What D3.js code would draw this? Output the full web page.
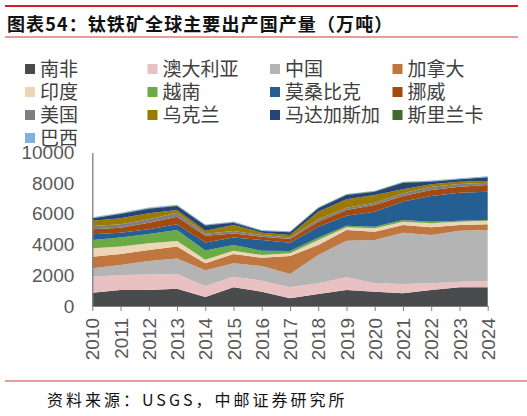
<!DOCTYPE html>
<html>
<head>
<meta charset="utf-8">
<script src="https://cdn.jsdelivr.net/npm/d3@7"></script>
<style>
    body { margin: 0; background: #fff; }
    svg { display: block; }
</style>
</head>
<body>
<div id="chart"></div>
<script>
// data (万吨)
var years = ['2010', '2011', '2012', '2013', '2014', '2015', '2016', '2017',
    '2018', '2019', '2020', '2021', '2022', '2023', '2024'];
var countries = ['南非', '澳大利亚', '中国', '加拿大', '印度', '越南', '莫桑比克',
    '挪威', '美国', '乌克兰', '马达加斯加', '斯里兰卡', '巴西'];
var southAfrica = [870, 1040, 1040, 1130, 580, 1215, 930, 500, 780, 1040, 930, 825, 1040, 1215, 1215];
var australia = [1040, 980, 1020, 955, 730, 695, 720, 715, 695, 830, 545, 605, 435, 370, 415];
var china = [545, 650, 870, 1015, 1020, 870, 950, 870, 1845, 2385, 2825, 3350, 3150, 3325, 3320];
var canada = [755, 720, 720, 770, 450, 610, 550, 1175, 650, 695, 540, 500, 500, 370, 370];
var india = [550, 480, 430, 365, 240, 210, 170, 170, 330, 175, 220, 210, 265, 210, 240];
var vietnam = [540, 600, 610, 715, 600, 370, 280, 150, 150, 105, 110, 110, 100, 70, 40];
var mozambique = [370, 310, 310, 370, 510, 500, 700, 545, 720, 650, 975, 1200, 1675, 1820, 1845];
var norway = [330, 320, 430, 500, 440, 260, 215, 240, 320, 370, 435, 365, 395, 390, 435];
var usa = [210, 220, 220, 260, 130, 150, 110, 105, 160, 150, 150, 175, 210, 180, 150];
var ukraine = [350, 390, 390, 170, 200, 400, 155, 155, 495, 550, 500, 260, 160, 150, 110];
var madagascar = [150, 290, 300, 260, 340, 150, 100, 175, 220, 280, 215, 430, 170, 150, 240];
var sriLanka = [30, 30, 30, 40, 30, 30, 30, 30, 30, 30, 30, 30, 30, 30, 30];
var brazil = [40, 40, 40, 50, 40, 40, 40, 40, 40, 40, 40, 40, 40, 40, 40];
var yTicks = [0, 2000, 4000, 6000, 8000, 10000];

var series = [southAfrica, australia, china, canada, india, vietnam, mozambique,
    norway, usa, ukraine, madagascar, sriLanka, brazil];
var colors = ['#4a4b4d', '#eac1c3', '#b4b4b4', '#c0773f', '#ecd6b5', '#6aab47', '#245e93',
    '#a34a10', '#7f7f7f', '#9b7a00', '#264478', '#426a2b', '#7eb3e0'];

var W = 527, H = 416;
var svg = d3.select('#chart').append('svg')
    .attr('width', W)
    .attr('height', H);

// title block
svg.append('line').attr('x1', 5).attr('x2', 518).attr('y1', 6).attr('y2', 6)
    .attr('stroke', '#d0202a').attr('stroke-width', 2);
svg.append('text')
    .attr('x', 7).attr('y', 31)
    .style('font-family', '"Noto Sans CJK SC", sans-serif')
    .style('font-size', '18px')
    .style('font-weight', 'bold')
    .style('letter-spacing', '1.1px')
    .attr('fill', '#111')
    .text('图表54：钛铁矿全球主要出产国产量（万吨）');
svg.append('line').attr('x1', 5).attr('x2', 518).attr('y1', 37).attr('y2', 37)
    .attr('stroke', '#e07a7a').attr('stroke-width', 1.5);

// legend, 4 per row
var legend = svg.append('g').attr('class', 'legend');
countries.forEach(function (name, i) {
    var col = i % 4, row = Math.floor(i / 4);
    var g = legend.append('g')
        .attr('transform', 'translate(' + (25 + col * 122.5) + ',' + (69 + row * 23) + ')');
    g.append('rect')
        .attr('x', 0).attr('y', -5)
        .attr('width', 10).attr('height', 10)
        .attr('fill', colors[i]);
    g.append('text')
        .attr('x', 15).attr('y', 0)
        .attr('dy', '0.36em')
        .style('font-family', '"Noto Sans CJK SC", sans-serif')
        .style('font-size', '19px')
        .attr('fill', '#404040')
        .text(name);
});

// plot
var x = d3.scalePoint()
    .domain(years)
    .range([92.3, 487.7]);
var y = d3.scaleLinear()
    .domain([0, 10000])
    .range([306, 152.5]);

var table = years.map(function (yr, i) {
    var row = { year: yr };
    countries.forEach(function (c, k) { row[c] = series[k][i]; });
    return row;
});
var stacked = d3.stack().keys(countries)(table);

var area = d3.area()
    .x(function (d) { return x(d.data.year); })
    .y0(function (d) { return y(d[0]); })
    .y1(function (d) { return y(d[1]); });

svg.append('g').selectAll('path')
    .data(stacked)
    .enter()
    .append('path')
    .attr('d', area)
    .attr('fill', function (d, i) { return colors[i]; });

var axisFont = 'Liberation Sans, Arial, sans-serif';

var yAxis = svg.append('g')
    .attr('transform', 'translate(92.3,0)')
    .call(d3.axisLeft(y).tickValues(yTicks).tickSize(0).tickPadding(18).tickFormat(d3.format('d')));
yAxis.select('.domain').attr('stroke', '#7f7f7f').attr('stroke-width', 1.3);
yAxis.selectAll('text')
    .style('font-family', axisFont)
    .style('font-size', '19px')
    .attr('fill', '#595959');

var xAxis = svg.append('g')
    .attr('transform', 'translate(0,306)')
    .call(d3.axisBottom(x).tickSize(5).tickSizeOuter(0));
xAxis.select('.domain').attr('stroke', '#7f7f7f');
xAxis.selectAll('.tick line').attr('stroke', '#7f7f7f');
xAxis.selectAll('text')
    .attr('transform', 'rotate(-90)')
    .attr('x', -12).attr('y', 0)
    .attr('dy', '0.35em')
    .style('text-anchor', 'end')
    .style('font-family', axisFont)
    .style('font-size', '19px')
    .attr('fill', '#595959');

// footer
svg.append('line').attr('x1', 5).attr('x2', 527).attr('y1', 381).attr('y2', 381)
    .attr('stroke', '#e07a7a').attr('stroke-width', 1.5);
svg.append('text')
    .attr('x', 47).attr('y', 406)
    .style('font-family', '"Noto Sans CJK SC", sans-serif')
    .style('font-size', '16px')
    .style('letter-spacing', '3px')
    .attr('fill', '#111')
    .text('资料来源：USGS，中邮证券研究所');
</script>
</body>
</html>
